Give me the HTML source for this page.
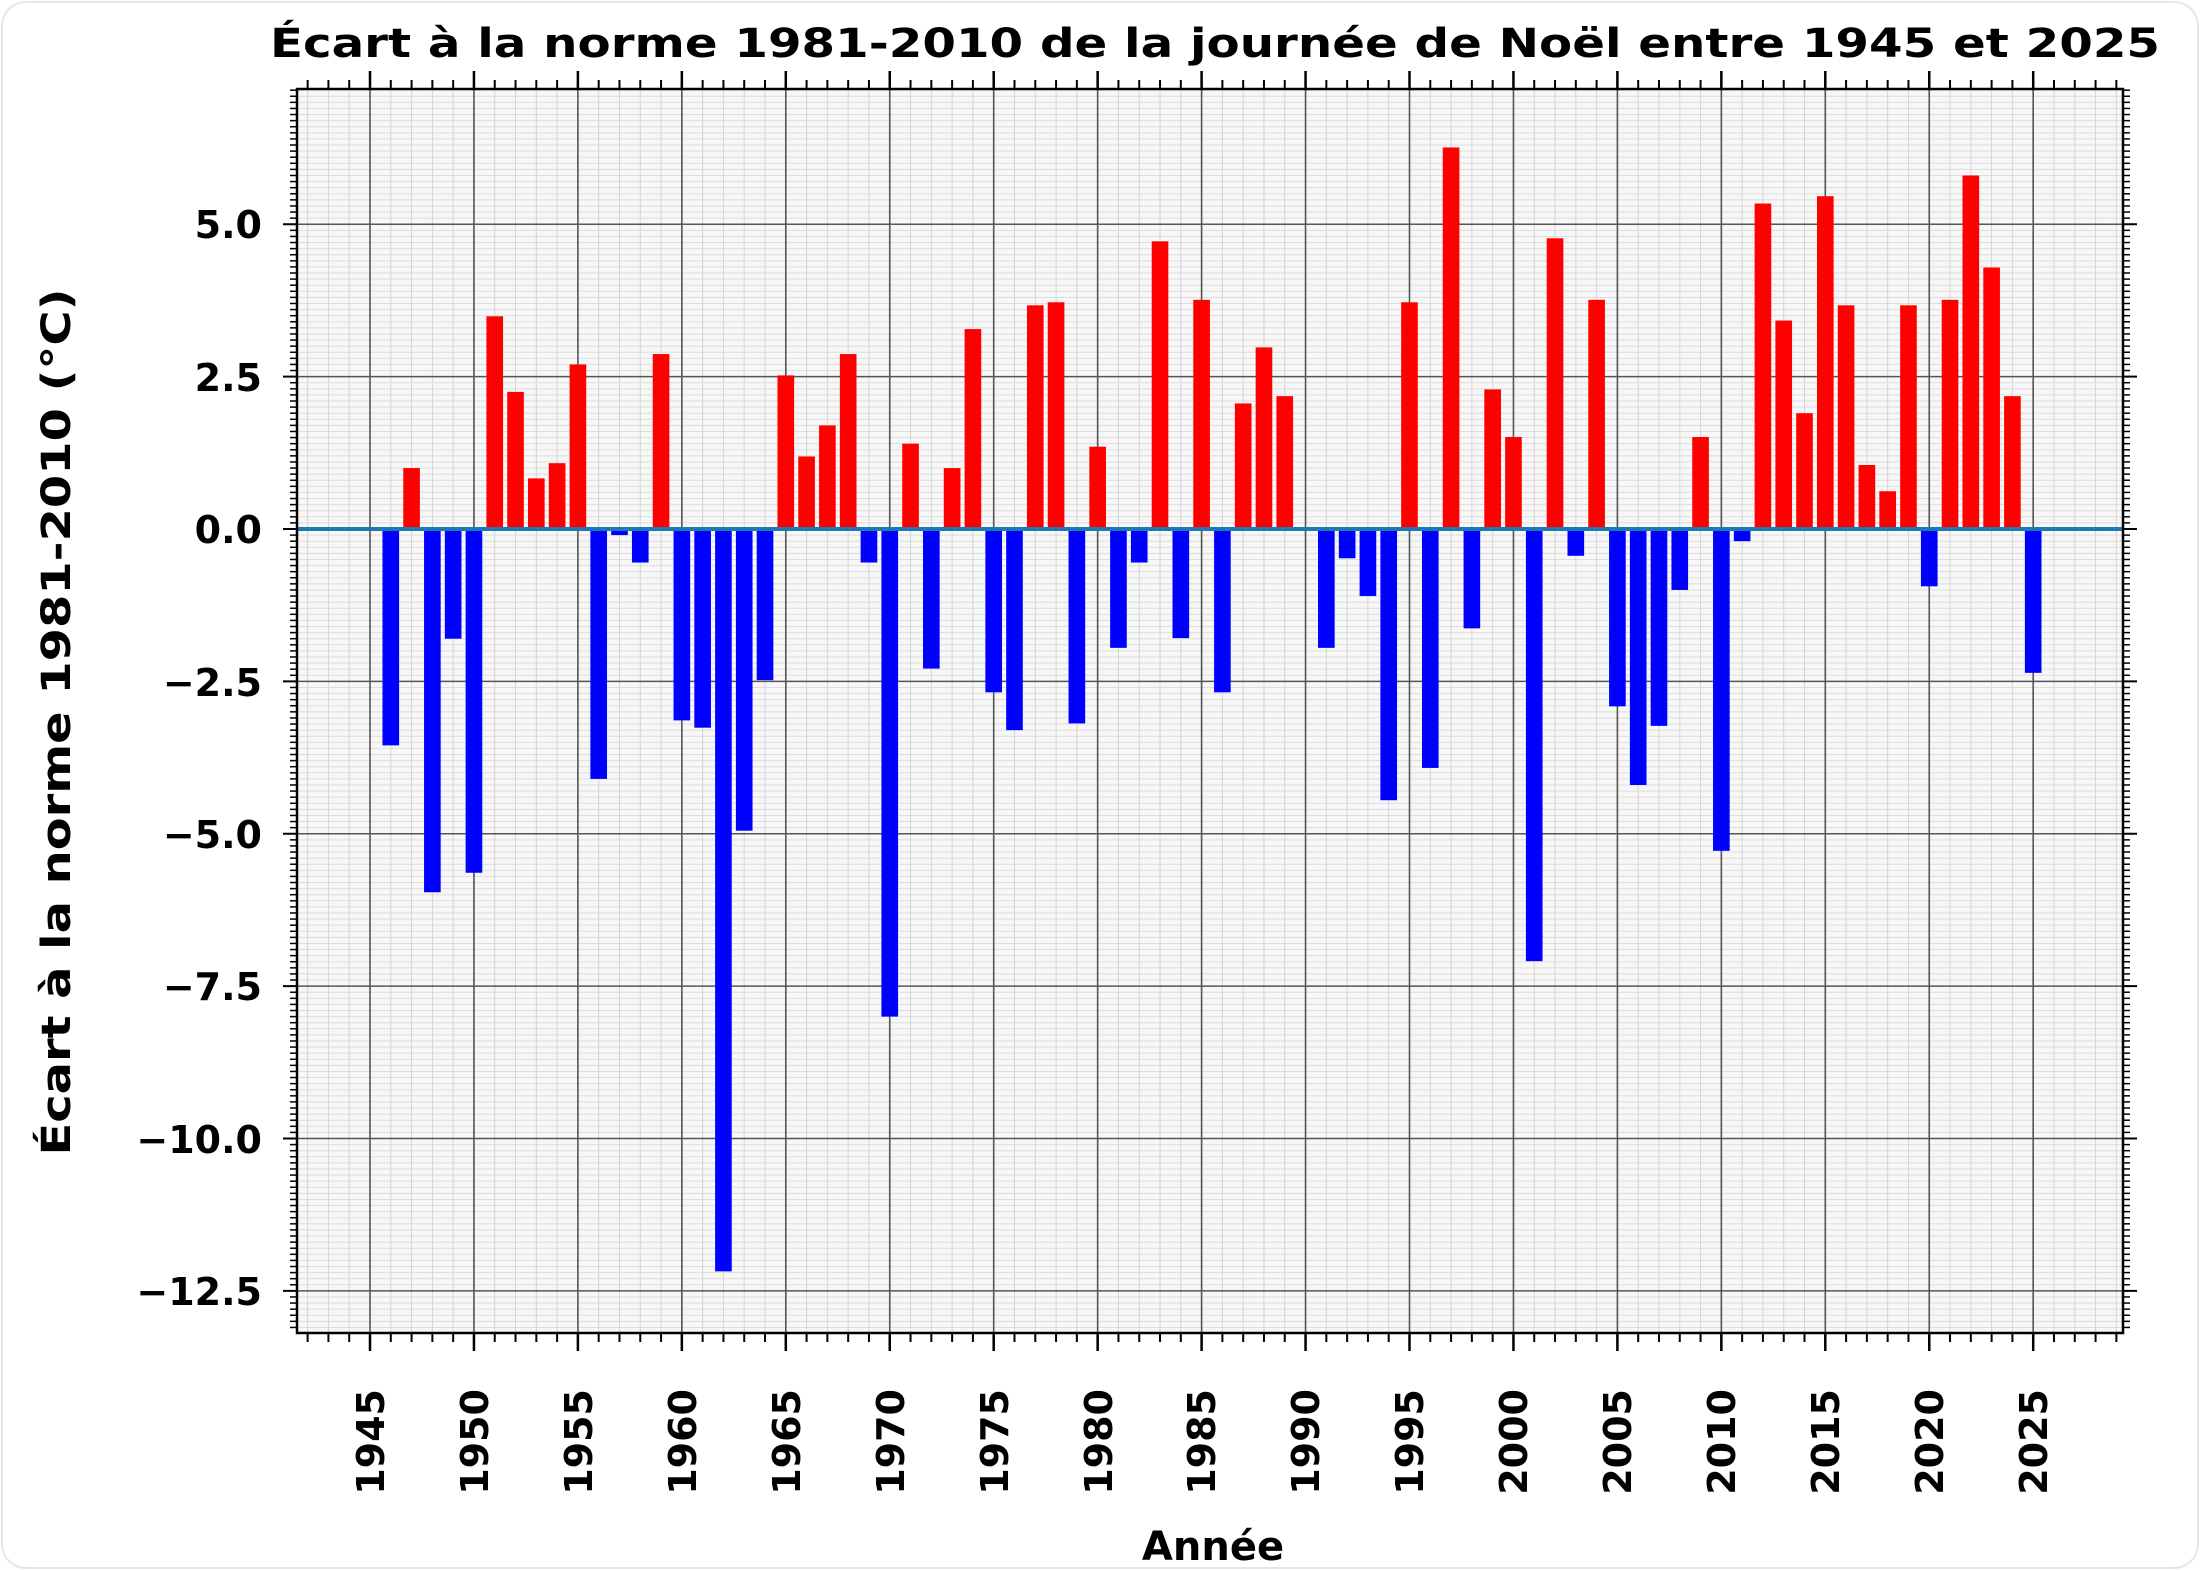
<!DOCTYPE html>
<html><head><meta charset="utf-8"><style>
html,body{margin:0;padding:0;background:#fff;}
svg{display:block;}
text{font-family:"DejaVu Sans","Liberation Sans",sans-serif;font-weight:bold;fill:#000;}
</style></head><body>
<svg id="s" width="2200" height="1570" viewBox="0 0 2200 1570" xmlns="http://www.w3.org/2000/svg">
<rect x="0" y="0" width="2200" height="1570" fill="#fff"/>
<rect x="2" y="2" width="2196" height="1566" rx="24" fill="none" stroke="#e6e6e6" stroke-width="2"/>
<g id="plot"></g>
<text x="1215" y="57" font-size="40" text-anchor="middle" textLength="1890" lengthAdjust="spacingAndGlyphs">Écart à la norme 1981-2010 de la journée de Noël entre 1945 et 2025</text>
<g font-size="38" text-anchor="end">
<text x="262" y="238">5.0</text>
<text x="262" y="391">2.5</text>
<text x="262" y="543">0.0</text>
<text x="262" y="696">−2.5</text>
<text x="262" y="848">−5.0</text>
<text x="262" y="1000">−7.5</text>
<text x="262" y="1153">−10.0</text>
<text x="262" y="1305">−12.5</text>
</g>
<g font-size="38" text-anchor="end">
<text transform="translate(384,1389) rotate(-90)">1945</text>
<text transform="translate(488,1389) rotate(-90)">1950</text>
<text transform="translate(592,1389) rotate(-90)">1955</text>
<text transform="translate(696,1389) rotate(-90)">1960</text>
<text transform="translate(800,1389) rotate(-90)">1965</text>
<text transform="translate(904,1389) rotate(-90)">1970</text>
<text transform="translate(1008,1389) rotate(-90)">1975</text>
<text transform="translate(1112,1389) rotate(-90)">1980</text>
<text transform="translate(1215,1389) rotate(-90)">1985</text>
<text transform="translate(1319,1389) rotate(-90)">1990</text>
<text transform="translate(1423,1389) rotate(-90)">1995</text>
<text transform="translate(1527,1389) rotate(-90)">2000</text>
<text transform="translate(1631,1389) rotate(-90)">2005</text>
<text transform="translate(1735,1389) rotate(-90)">2010</text>
<text transform="translate(1839,1389) rotate(-90)">2015</text>
<text transform="translate(1943,1389) rotate(-90)">2020</text>
<text transform="translate(2047,1389) rotate(-90)">2025</text>
</g>
<text x="1213" y="1560" font-size="40" text-anchor="middle">Année</text>
<text transform="translate(70,722) rotate(-90)" font-size="40" text-anchor="middle" textLength="867" lengthAdjust="spacingAndGlyphs">Écart à la norme 1981-2010 (°C)</text>
</svg>
<script>
(function(){
var NS="http://www.w3.org/2000/svg",g=document.getElementById("plot");
var L=297,R=2123,T=89,B=1333,Y0=529,U=60.95,X0=370,XU=20.79;
function X(y){return X0+(y-1945)*XU;}
function Yv(v){return Y0-v*U;}
function el(n,a){var e=document.createElementNS(NS,n);for(var k in a)e.setAttribute(k,a[k]);g.appendChild(e);return e;}
el("rect",{x:L,y:T,width:R-L,height:B-T,fill:"#f7f7f7"});
for(var i=-131;i<=72;i++){var y=Yv(i/10);if(y<T||y>B)continue;
 el("line",{x1:L,x2:R,y1:y,y2:y,stroke:"#dddddd","stroke-width":1});
 el("line",{x1:L-7,x2:L,y1:y,y2:y,stroke:"#000","stroke-width":1.5});
 el("line",{x1:R,x2:R+7,y1:y,y2:y,stroke:"#000","stroke-width":1.5});}
for(var yr=1942;yr<=2029;yr++){var x=X(yr);if(x<L||x>R)continue;
 el("line",{x1:x,x2:x,y1:T,y2:B,stroke:"#d4d4d4","stroke-width":1});
 el("line",{x1:x,x2:x,y1:B,y2:B+9,stroke:"#000","stroke-width":2});
 el("line",{x1:x,x2:x,y1:T-9,y2:T,stroke:"#000","stroke-width":2});}
for(var v=-12.5;v<=5;v+=2.5){var y=Yv(v);
 el("line",{x1:L,x2:R,y1:y,y2:y,stroke:"#555","stroke-width":1.6});
 el("line",{x1:L-14,x2:L,y1:y,y2:y,stroke:"#000","stroke-width":2});
 el("line",{x1:R,x2:R+14,y1:y,y2:y,stroke:"#000","stroke-width":2});}
for(var yr=1945;yr<=2025;yr+=5){var x=X(yr);
 el("line",{x1:x,x2:x,y1:T,y2:B,stroke:"#555","stroke-width":1.6});
 el("line",{x1:x,x2:x,y1:B,y2:B+18,stroke:"#000","stroke-width":2.5});
 el("line",{x1:x,x2:x,y1:T-18,y2:T,stroke:"#000","stroke-width":2.5});}
var d={1946:-3.55,1947:1.0,1948:-5.96,1949:-1.8,1950:-5.64,1951:3.49,1952:2.25,1953:0.83,1954:1.08,1955:2.7,1956:-4.1,1957:-0.1,1958:-0.55,1959:2.87,1960:-3.14,1961:-3.26,1962:-12.18,1963:-4.95,1964:-2.48,1965:2.52,1966:1.19,1967:1.7,1968:2.87,1969:-0.55,1970:-8.0,1971:1.4,1972:-2.29,1973:1.0,1974:3.28,1975:-2.68,1976:-3.3,1977:3.67,1978:3.72,1979:-3.19,1980:1.35,1981:-1.95,1982:-0.55,1983:4.72,1984:-1.79,1985:3.76,1986:-2.68,1987:2.06,1988:2.98,1989:2.18,1991:-1.95,1992:-0.48,1993:-1.1,1994:-4.45,1995:3.72,1996:-3.92,1997:6.26,1998:-1.63,1999:2.29,2000:1.51,2001:-7.09,2002:4.77,2003:-0.44,2004:3.76,2005:-2.91,2006:-4.2,2007:-3.23,2008:-1.0,2009:1.51,2010:-5.28,2011:-0.2,2012:5.34,2013:3.42,2014:1.9,2015:5.46,2016:3.67,2017:1.05,2018:0.62,2019:3.67,2020:-0.94,2021:3.76,2022:5.8,2023:4.29,2024:2.18,2025:-2.36};
var w=0.8*XU;
for(var k in d){var v=d[k],x=X(+k)-w/2;
 if(v>=0)el("rect",{x:x,y:Yv(v),width:w,height:v*U,fill:"#ff0000"});
 else el("rect",{x:x,y:Y0,width:w,height:-v*U,fill:"#0000ff"});}
el("line",{x1:L,x2:R,y1:Y0,y2:Y0,stroke:"#1f77b4","stroke-width":4});
el("rect",{x:L,y:T,width:R-L,height:B-T,fill:"none",stroke:"#000","stroke-width":2.5});
})();
</script>
</body></html>
